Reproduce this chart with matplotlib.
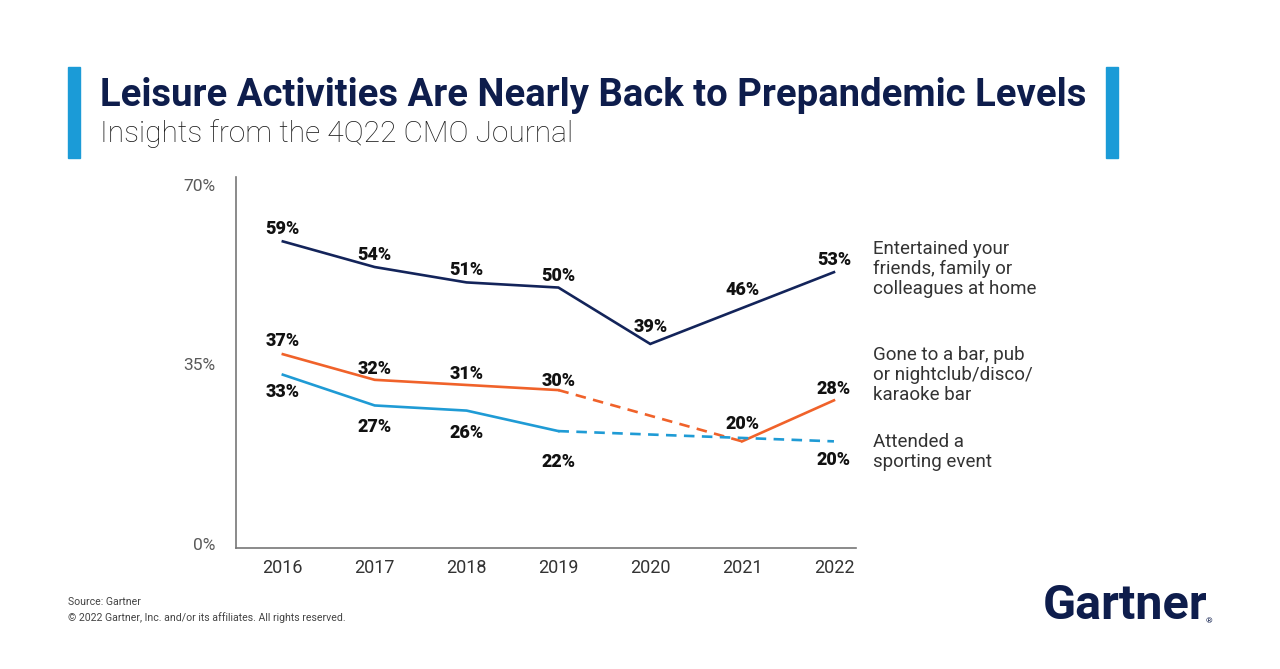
import matplotlib
matplotlib.use("Agg")
import matplotlib.pyplot as plt
import numpy as np

years = ["2016", "2017", "2018", "2019", "2020", "2021", "2022"]
entertained = [59, 54, 51, 50, 39, 46, 53]
bar_pub = [37, 32, 31, 30, None, 20, 28]
sporting = [33, 27, 26, 22, None, None, 20]
y_ticks = [0, 35, 70]
y_tick_labels = ["0%", "35%", "70%"]
series_names = ["Entertained your\nfriends, family or\ncolleagues at home",
                "Gone to a bar, pub\nor nightclub/disco/\nkaraoke bar",
                "Attended a\nsporting event"]

# label offsets in pixels (positive = above)
ent_off = [12, 12, 12, 12, 17, 18, 12]
bar_off = [13, 11, 11, 9, 0, 17, 11]
spo_off = [-17, -22, -22, -31, 0, 0, -19]

NAVY = "#13245a"
TITLE_NAVY = "#0e1d4c"
ORANGE = "#f0622a"
LBLUE = "#1f9bd5"
BAR_BLUE = "#1b9bd7"

plt.rcParams['font.family'] = ['Roboto', 'DejaVu Sans']

fig = plt.figure(figsize=(12.8, 6.69), dpi=100)
ax = fig.add_axes([236/1280, 1-548/669, (856-236)/1280, (548-185)/669])

x = np.arange(len(years))
LW = 1.9

def plot_series(vals, color, offs):
    vals_arr = np.array([np.nan if v is None else v for v in vals], dtype=float)
    ax.plot(x, vals_arr, color=color, lw=LW, solid_joinstyle='miter')
    idx = [i for i, v in enumerate(vals) if v is not None]
    for a, b in zip(idx[:-1], idx[1:]):
        if b - a > 1:
            ax.plot([x[a], x[b]], [vals[a], vals[b]], color=color, lw=LW,
                    ls=(0, (4, 2.8)))
    for i, v in enumerate(vals):
        if v is None:
            continue
        ax.annotate(f"{v}%", (x[i], v), xytext=(0, offs[i] * 0.72),
                    textcoords="offset points",
                    ha="center", va="center", fontsize=13, fontweight=900,
                    color="#111111")

plot_series(entertained, NAVY, ent_off)
plot_series(bar_pub, ORANGE, bar_off)
plot_series(sporting, LBLUE, spo_off)

ax.set_xlim(-0.51, 6.24)
ax.set_ylim(-0.8, 70)
ax.set_yticks(y_ticks)
ax.set_yticklabels(y_tick_labels)
ax.set_xticks(x)
ax.set_xticklabels(years)
ax.tick_params(axis='both', length=0, labelsize=12.5, colors="#333333")
ax.tick_params(axis='y', pad=15, colors="#5a5a5a")
ax.tick_params(axis='x', pad=8, labelsize=13)
for s in ["top", "right"]:
    ax.spines[s].set_visible(False)
for s in ["left", "bottom"]:
    ax.spines[s].set_color("#777777")
    ax.spines[s].set_linewidth(1.2)
ax.spines["left"].set_bounds(-0.8, 71.5)

# Right-side series labels
label_ys = [269, 375, 452]
for name, yy in zip(series_names, label_ys):
    fig.text(873/1280, 1-yy/669, name, ha="left", va="center", fontsize=13.5,
             color="#333333", linespacing=1.17)

# Title bars
fig.patches.append(plt.Rectangle((68/1280, 1-158/669), 12/1280, 91/669,
                                 transform=fig.transFigure, color=BAR_BLUE))
fig.patches.append(plt.Rectangle((1106/1280, 1-158/669), 12/1280, 91/669,
                                 transform=fig.transFigure, color=BAR_BLUE))

fig.text(100/1280, 1-96/669, "Leisure Activities Are Nearly Back to Prepandemic Levels",
         ha="left", va="center", fontsize=27.5, fontweight="bold", color=TITLE_NAVY)
fig.text(100/1280, 1-134/669, "Insights from the 4Q22 CMO Journal",
         ha="left", va="center", fontsize=21.5, fontweight="light", color="#1a1a1a")

fig.text(68/1280, 1-602/669, "Source: Gartner", ha="left", va="center",
         fontsize=7.6, color="#444444")
fig.text(68/1280, 1-618/669, "© 2022 Gartner, Inc. and/or its affiliates. All rights reserved.",
         ha="left", va="center", fontsize=7.6, color="#444444")
fig.text(1043/1280, 1-606/669, "Gartner", ha="left", va="center",
         fontsize=35, fontweight="bold", color=TITLE_NAVY)
fig.text(1206/1280, 1-621/669, "®", ha="left", va="center", fontsize=6, color=TITLE_NAVY)

fig.savefig("out.png", dpi=100, facecolor="white")
